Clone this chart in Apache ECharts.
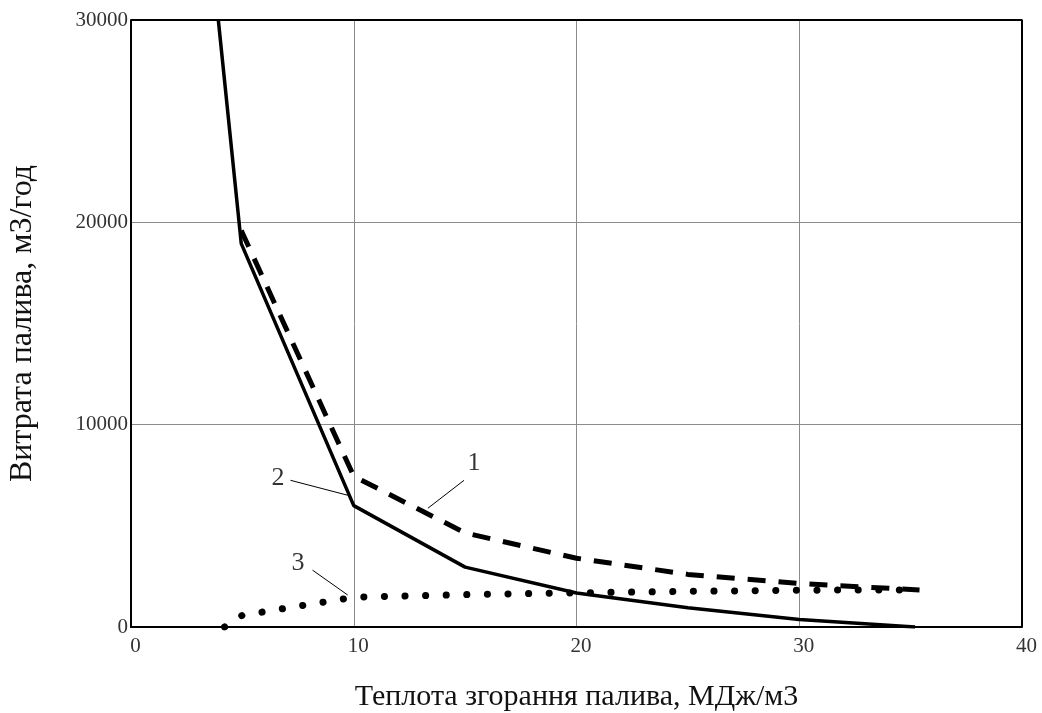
<!DOCTYPE html>
<html>
<head>
<meta charset="utf-8">
<script src="https://cdn.jsdelivr.net/npm/echarts@6/dist/echarts.min.js"></script>
<style>
    html, body { margin: 0; padding: 0; background: #fff; }
    #chart { width: 1042px; height: 713px; }
</style>
</head>
<body>
<div id="chart"></div>
<script>
// крива 1 (штрихова), крива 2 (суцільна), крива 3 (точкова)
var curve1 = [[4.95, 19600], [10, 7450], [15, 4650], [20, 3400], [25, 2600], [30, 2150], [35.4, 1830]];
var curve2 = [[3.92, 30000], [4.95, 18950], [10, 6000], [15, 2960], [20, 1680], [25, 950], [30, 370], [35.2, 0]];
var curve3 = [[4.2, 0], [5, 580], [10, 1470], [15, 1600], [20, 1690], [25, 1760], [30, 1820], [35.3, 1830]];

// підписи кривих та виносні лінії
var labels = [[15.4, 8100, '1'], [6.6, 7350, '2'], [7.5, 3150, '3']];
var leader1 = [[14.95, 7250], [13.33, 5870]];
var leader2 = [[7.16, 7250], [9.73, 6510]];
var leader3 = [[8.15, 2810], [9.73, 1580]];

var myChart = echarts.init(document.getElementById('chart'));

function leader(data) {
    return {
        type: 'line', data: data, symbol: 'none', silent: true,
        lineStyle: { color: '#000', width: 1 }, z: 5
    };
}

var option = {
    animation: false,
    backgroundColor: '#fff',
    textStyle: { fontFamily: 'Liberation Serif' },
    grid: { left: 131, top: 20, right: 20, bottom: 86, outerBoundsMode: 'none', containLabel: false },
    xAxis: {
        type: 'value', min: 0, max: 40, interval: 10,
        name: 'Теплота згорання палива, МДж/м3',
        nameLocation: 'middle', nameGap: 55,
        nameTextStyle: { fontFamily: 'Liberation Serif', fontSize: 30, color: '#111' },
        axisLine: { show: true, onZero: false, lineStyle: { color: '#000', width: 2 } },
        axisTick: { show: false },
        axisLabel: {
            fontFamily: 'Liberation Serif', fontSize: 21, color: '#333', margin: 9,
            padding: [0, 0, 0, 9],
            formatter: function (v) { return String(v); }
        },
        splitLine: { show: true, lineStyle: { color: '#8c8c8c', width: 1 } }
    },
    yAxis: {
        type: 'value', min: 0, max: 30000, interval: 10000,
        name: 'Витрата палива, м3/год',
        nameLocation: 'middle', nameGap: 92,
        nameTextStyle: { fontFamily: 'Liberation Serif', fontSize: 32, color: '#111' },
        axisLine: { show: true, lineStyle: { color: '#000', width: 2 } },
        axisTick: { show: false },
        axisLabel: {
            fontFamily: 'Liberation Serif', fontSize: 21, color: '#333', margin: 3,
            formatter: function (v) { return String(v); }
        },
        splitLine: { show: true, lineStyle: { color: '#8c8c8c', width: 1 } }
    },
    series: [
        {
            // рамка справа і зверху
            type: 'line', data: [[0, 30000], [40, 30000], [40, 0]], symbol: 'none', silent: true,
            lineStyle: { color: '#000', width: 2 }, z: 1
        },
        {
            name: '1', type: 'line', data: curve1, symbol: 'none',
            lineStyle: { color: '#000', width: 5, type: [18, 13] }, z: 3
        },
        {
            name: '2', type: 'line', data: curve2, symbol: 'none',
            lineStyle: { color: '#000', width: 3.5 }, z: 4
        },
        {
            name: '3', type: 'line', data: curve3, symbol: 'none',
            lineStyle: { color: '#000', width: 7, type: [0.1, 20.5], cap: 'round' }, z: 3
        },
        leader(leader1),
        leader(leader2),
        leader(leader3),
        {
            type: 'scatter', silent: true, symbolSize: 0,
            data: labels.map(function (l) { return { value: [l[0], l[1]], name: l[2] }; }),
            label: {
                show: true, position: 'inside', formatter: '{b}',
                fontFamily: 'Liberation Serif', fontSize: 26, color: '#000'
            }
        }
    ]
};

myChart.setOption(option);
</script>
</body>
</html>
